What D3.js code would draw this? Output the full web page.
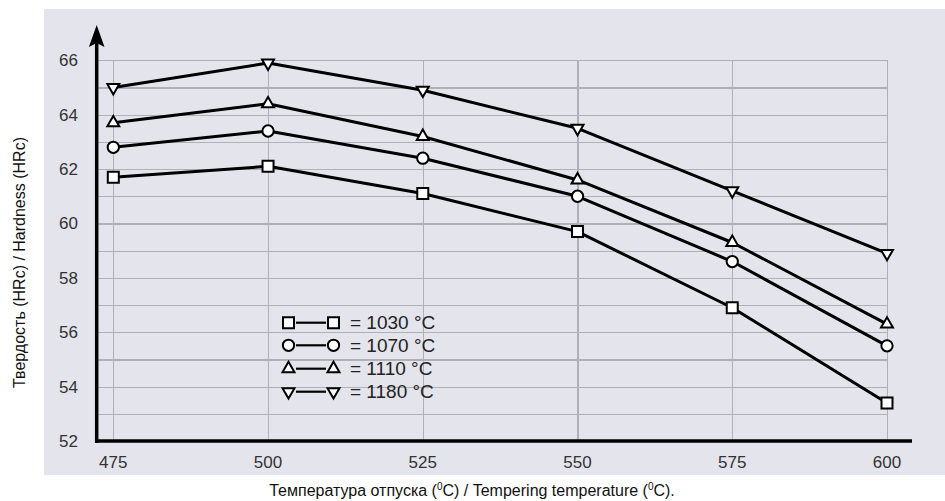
<!DOCTYPE html>
<html lang="ru">
<head>
  <meta charset="UTF-8">
  <title>Твердость / Hardness vs tempering temperature</title>
  <script src="https://d3js.org/d3.v7.min.js"></script>
  <style>
    body {
      margin: 0;
      background: #fff;
    }

    .grid line {
      stroke: #b0b0b6;
      stroke-width: 1.2px;
      shape-rendering: crispEdges;
    }

    .tick-label {
      font-family: "Liberation Sans", Arial, sans-serif;
      font-size: 17px;
      fill: #333;
    }

    .legend-label {
      font-family: "Liberation Sans", Arial, sans-serif;
      font-size: 19px;
      fill: #222;
    }

    .axis-title {
      font-family: "Liberation Sans", Arial, sans-serif;
      font-size: 16px;
      fill: #111;
    }
  </style>
</head>
<body>
  <svg width="945" height="501"></svg>

  <script>
    // temperatures (°C) and hardness for each hardening temperature
    const temps = [475, 500, 525, 550, 575, 600];
    const h1030 = [61.7, 62.1, 61.1, 59.7, 56.9, 53.4];
    const h1070 = [62.8, 63.4, 62.4, 61.0, 58.6, 55.5];
    const h1110 = [63.7, 64.4, 63.2, 61.6, 59.3, 56.3];
    const h1180 = [65.0, 65.9, 64.9, 63.5, 61.2, 58.9];

    const seriesNames = ["= 1030 °C", "= 1070 °C", "= 1110 °C", "= 1180 °C"];
    const yTicks = [52, 54, 56, 58, 60, 62, 64, 66];

    const series = [
      { name: seriesNames[0], values: h1030, shape: "square" },
      { name: seriesNames[1], values: h1070, shape: "circle" },
      { name: seriesNames[2], values: h1110, shape: "up" },
      { name: seriesNames[3], values: h1180, shape: "down" }
    ];

    const svg = d3.select("svg");

    const x = d3.scaleLinear().domain([475, 600]).range([113.3, 887]);
    const y = d3.scaleLinear().domain([52, 66]).range([441, 60.3]);

    // panel background
    svg.append("rect")
      .attr("x", 44).attr("y", 9)
      .attr("width", 901).attr("height", 466)
      .attr("fill", "#e4e4ec");

    // grid
    svg.append("g")
      .attr("class", "grid")
      .attr("transform", `translate(0,${y(52)})`)
      .call(d3.axisBottom(x).tickValues(temps).tickSize(-(y(52) - y(66))).tickFormat(""))
      .call(g => g.select(".domain").remove());

    svg.append("g")
      .attr("class", "grid")
      .attr("transform", `translate(${x(600)},0)`)
      .call(d3.axisLeft(y).tickValues(d3.range(53, 67)).tickSize(x(600) - 96).tickFormat(""))
      .call(g => g.select(".domain").remove());

    // tick labels
    svg.append("g")
      .selectAll("text")
      .data(yTicks)
      .join("text")
      .attr("class", "tick-label")
      .attr("x", 78)
      .attr("y", d => y(d))
      .attr("dy", "0.35em")
      .attr("text-anchor", "end")
      .text(d => d);

    svg.append("g")
      .selectAll("text")
      .data(temps)
      .join("text")
      .attr("class", "tick-label")
      .attr("x", d => x(d))
      .attr("y", 462)
      .attr("dy", "0.35em")
      .attr("text-anchor", "middle")
      .text(d => d);

    // axes
    svg.append("line")
      .attr("x1", 95).attr("x2", 912)
      .attr("y1", y(52)).attr("y2", y(52))
      .attr("stroke", "#000").attr("stroke-width", 3.5);

    svg.append("line")
      .attr("x1", 96.7).attr("x2", 96.7)
      .attr("y1", y(52) + 1.7).attr("y2", 40)
      .attr("stroke", "#000").attr("stroke-width", 3.5);

    svg.append("path")
      .attr("d", "M96.7,25 L104.5,47 L96.7,43 L88.9,47 Z")
      .attr("fill", "#000");

    // markers
    function symbolFor(shape) {
      if (shape === "square") return d3.symbol(d3.symbolSquare, 121);
      if (shape === "circle") return d3.symbol(d3.symbolCircle, 100);
      return d3.symbol(d3.symbolTriangle, 62);
    }

    function drawMarker(g, shape, cx, cy) {
      const rot = shape === "down" ? " rotate(180)" : "";
      g.append("path")
        .attr("d", symbolFor(shape)())
        .attr("transform", `translate(${cx},${cy})${rot}`)
        .attr("fill", "#fff")
        .attr("stroke", "#000")
        .attr("stroke-width", 2);
    }

    const line = d3.line()
      .x((d, i) => x(temps[i]))
      .y(d => y(d));

    const lines = svg.append("g");
    series.forEach(s => {
      lines.append("path")
        .attr("d", line(s.values))
        .attr("fill", "none")
        .attr("stroke", "#000")
        .attr("stroke-width", 3)
        .attr("stroke-linejoin", "round");
    });

    const marks = svg.append("g");
    series.forEach(s => {
      s.values.forEach((v, i) => drawMarker(marks, s.shape, x(temps[i]), y(v)));
    });

    // legend
    const legend = svg.append("g");
    const rowY = [322.7, 345.3, 368.7, 391.7];
    series.forEach((s, i) => {
      const ly = rowY[i];
      legend.append("line")
        .attr("x1", 296).attr("x2", 326)
        .attr("y1", ly).attr("y2", ly)
        .attr("stroke", "#000").attr("stroke-width", 2.2);
      drawMarker(legend, s.shape, 288.5, ly);
      drawMarker(legend, s.shape, 333.5, ly);
      legend.append("text")
        .attr("class", "legend-label")
        .attr("x", 350)
        .attr("y", ly)
        .attr("dy", "0.35em")
        .text(s.name);
    });

    // axis titles
    const xt = svg.append("text")
      .attr("class", "axis-title")
      .attr("x", 472)
      .attr("y", 496)
      .attr("text-anchor", "middle");
    xt.append("tspan").text("Температура отпуска (");
    xt.append("tspan").attr("font-size", "10px").attr("dy", "-6").text("0");
    xt.append("tspan").attr("dy", "6").text("C) / Tempering temperature (");
    xt.append("tspan").attr("font-size", "10px").attr("dy", "-6").text("0");
    xt.append("tspan").attr("dy", "6").text("C).");

    svg.append("text")
      .attr("class", "axis-title")
      .attr("transform", "translate(25,262.5) rotate(-90)")
      .attr("text-anchor", "middle")
      .text("Твердость (HRc) / Hardness (HRc)");
  </script>
</body>
</html>
